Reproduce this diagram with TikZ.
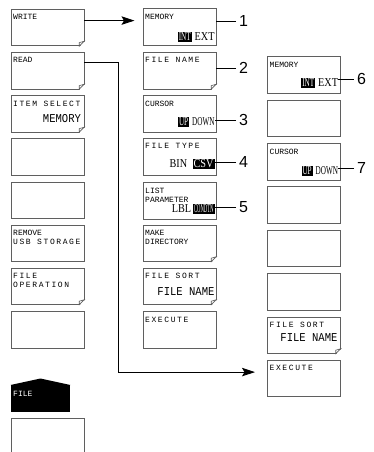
\documentclass[tikz,border=0pt]{standalone}
\usepackage{fontspec}
\usetikzlibrary{arrows.meta}
\newfontfamily\lcdfont{Liberation Mono}
\newfontfamily\lcdwide[LetterSpace=20]{Liberation Mono}
\newfontfamily\lcdbig[FakeStretch=0.88]{Liberation Mono}
\newfontfamily\lcdsel[FakeStretch=0.85]{Liberation Serif}
\newfontfamily\lcdselnarrow[FakeStretch=0.6]{Liberation Serif}
\newfontfamily\calloutfont{Liberation Sans}
\definecolor{keyline}{RGB}{95,95,95}

\begin{document}
\begin{tikzpicture}[x=1pt,y=1pt,
    keybox/.style={draw=keyline, line width=0.7pt, anchor=north west, minimum width=73pt, minimum height=36.5pt, inner sep=0pt},
    keylabel/.style={anchor=north west, inner sep=0pt, align=left, font=\lcdfont\fontsize{8}{9}\selectfont},
    widelabel/.style={keylabel, font=\lcdwide\fontsize{8}{9}\selectfont},
    keyvalue/.style={anchor=base east, inner sep=0pt, font=\lcdbig\fontsize{12}{12}\selectfont},
    selvalue/.style={anchor=base east, inner sep=0pt, font=\lcdsel\fontsize{12}{12}\selectfont},
    selnarrow/.style={selvalue, font=\lcdselnarrow\fontsize{12}{12}\selectfont},
    selon/.style={inner sep=1pt, fill=black, text=white},
    callnum/.style={anchor=west, inner sep=3pt, font=\calloutfont\fontsize{16}{16}\selectfont},
    calline/.style={line width=0.8pt},
    flow/.style={-{Stealth[length=13pt,width=8.5pt,inset=2.5pt]}, line width=1pt},
  ]
  \useasboundingbox (0,0) rectangle (374,-452);

  % soft keys with a title
  \foreach \nm/\xx/\yy/\sty/\txt in {
      write/10.5/9/keylabel/WRITE,
      read/10.5/52/keylabel/READ,
      isel/10.5/95/widelabel/ITEM SELECT,
      usb/10.5/224.5/keylabel/{REMOVE\\{\lcdwide USB STORAGE}},
      fop/10.5/267.5/widelabel/{FILE\\OPERATION},
      mem/142.5/8.5/keylabel/MEMORY,
      fname/142.5/52/widelabel/FILE NAME,
      cur/142.5/95/keylabel/CURSOR,
      ftype/142.5/138/widelabel/FILE TYPE,
      list/142.5/182/keylabel/{LIST\\PARAMETER},
      mkdir/142.5/224.5/keylabel/{MAKE\\DIRECTORY},
      fsort/142.5/267.5/widelabel/FILE SORT,
      exec/142.5/311/widelabel/EXECUTE,
      mem2/267/56/keylabel/MEMORY,
      cur2/267/143/keylabel/CURSOR,
      fsort2/267/316.5/widelabel/FILE SORT,
      exec2/267/359.5/widelabel/EXECUTE}
  {
    \node[keybox] (\nm) at (\xx,-\yy) {};
    \node[\sty] (\nm-t) at ([shift={(2.5,-5.5)}]\nm.north west) {\txt};
  }

  % empty soft keys
  \foreach \nm/\xx/\yy in {lblank1/10.5/138, lblank2/10.5/181.5, lblank3/10.5/311, lblank4/10.5/418,
      rblank1/267/99.5, rblank2/267/186, rblank3/267/229.5, rblank4/267/273}
    \node[keybox] (\nm) at (\xx,-\yy) {};

  % folded corners
  \foreach \k in {write,read,isel,fop,fname,mkdir,fsort,fsort2} {
    \fill[white] ([shift={(-5,-1)}]\k.south east) -- ([shift={(1,-1)}]\k.south east) -- ([shift={(1,5)}]\k.south east) -- cycle;
    \draw[keyline, line width=0.6pt] ([yshift=5pt]\k.south east) -- ([xshift=-5pt]\k.south east) -- ++(0,3.5) -- cycle;
  }

  % FILE tab
  \node[fill=black, anchor=north west, minimum width=59.5pt, minimum height=27pt, inner sep=0pt] (filetab) at (10.5,-385) {};
  \fill (filetab.north west) -- ([yshift=6.5pt]filetab.north) -- (filetab.north east) -- cycle;
  \node[keylabel, text=white] (filetab-t) at ([shift={(2.5,-6.5)}]filetab.north west) {FILE};

  % settings
  \node[keyvalue] (isel-v) at ([shift={(-3,9.5)}]isel.south east) {MEMORY};
  \node[keyvalue] (fsort-v) at ([shift={(-1.5,9)}]fsort.south east) {FILE NAME};
  \node[keyvalue] (fsort2-v) at ([shift={(-3,12.5)}]fsort2.south east) {FILE NAME};

  \node[selvalue] (mem-ext) at ([shift={(-1.5,5)}]mem.south east) {EXT};
  \node[selnarrow, selon] (mem-int) at ([xshift=-2.5pt]mem-ext.base west) {INT};
  \node[selvalue] (mem2-ext) at ([shift={(-2.5,6.5)}]mem2.south east) {EXT};
  \node[selnarrow, selon] (mem2-int) at ([xshift=-2.5pt]mem2-ext.base west) {INT};

  \node[selnarrow] (cur-down) at ([shift={(-1.5,6.5)}]cur.south east) {DOWN};
  \node[selnarrow, selon] (cur-up) at ([xshift=-2.5pt]cur-down.base west) {UP};
  \node[selnarrow] (cur2-down) at ([shift={(-2.5,5.5)}]cur2.south east) {DOWN};
  \node[selnarrow, selon] (cur2-up) at ([xshift=-2.5pt]cur2-down.base west) {UP};

  \node[selvalue, selon] (ftype-csv) at ([shift={(-1.5,7.5)}]ftype.south east) {CSV};
  \node[selvalue] (ftype-bin) at ([xshift=-5pt]ftype-csv.base west) {BIN};
  \node[selnarrow, selon] (list-cond) at ([shift={(-1.5,6.5)}]list.south east) {\scalebox{0.65}[1]{CONDTN}};
  \node[selvalue] (list-lbl) at ([xshift=-1.5pt]list-cond.base west) {LBL};

  % callouts
  \node[callnum] (n1) at (236,-21) {1};
  \node[callnum] (n2) at (236,-68) {2};
  \node[callnum] (n3) at (236,-120) {3};
  \node[callnum] (n4) at (236,-162) {4};
  \node[callnum] (n5) at (236,-207) {5};
  \node[callnum] (n6) at (354,-79) {6};
  \node[callnum] (n7) at (354,-168) {7};
  \draw[calline] (n1.west) -- (n1.west -| mem.east);
  \draw[calline] (n2.west) -- (n2.west -| fname.east);
  \draw[calline] (n3.west) -- (n3.west -| cur-down.east);
  \draw[calline] (n4.west) -- (n4.west -| ftype-csv.east);
  \draw[calline] (n5.west) -- (n5.west -| list-cond.east);
  \draw[calline] (n6.west) -- (n6.west -| mem2-ext.east);
  \draw[calline] (n7.west) -- (n7.west -| cur2-down.east);

  % menu jumps
  \draw[flow, shorten >=8pt] ([yshift=7pt]write.east) -- ([yshift=7pt]write.east -| mem.west);
  \draw[flow, shorten >=12pt] ([yshift=8.5pt]read.east) -- ++(34,0) |- ([yshift=6pt]exec2.west);
\end{tikzpicture}
\end{document}
